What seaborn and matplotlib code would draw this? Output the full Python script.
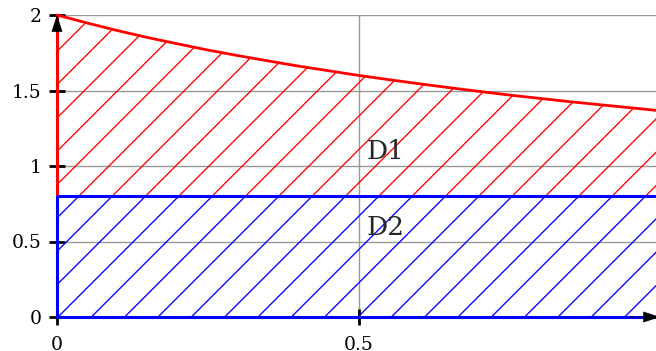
import numpy as np
import pandas as pd
import matplotlib
matplotlib.use("Agg")
import matplotlib.pyplot as plt
import seaborn as sns

# --- data ---
curve_x = [0.0, 0.05, 0.1, 0.15, 0.2, 0.25, 0.3, 0.35, 0.4, 0.45, 0.5,
           0.55, 0.6, 0.65, 0.7, 0.75, 0.8, 0.85, 0.9, 0.95, 1.0]
curve_y = [2.0, 1.947, 1.897, 1.851, 1.809, 1.768, 1.731, 1.696, 1.662, 1.631, 1.600,
           1.572, 1.545, 1.519, 1.494, 1.470, 1.448, 1.426, 1.406, 1.386, 1.366]
level_d2 = 0.8
x_ticks = [0, 0.5]
x_tick_labels = ["0", "0.5"]
y_ticks = [0, 0.5, 1, 1.5, 2]
y_tick_labels = ["0", "0.5", "1", "1.5", "2"]
region_labels = ["D1", "D2"]
region_label_pos = [(0.514, 1.044), (0.514, 0.543)]

RED = "#ff0000"
BLUE = "#0000ff"

W, H = 656, 351
SHIFT = 25  # extra canvas on the left, cropped off afterwards (moves hatch phase)

sns.set_style("white")
plt.rcParams["font.family"] = ["DejaVu Serif"]
plt.rcParams["hatch.linewidth"] = 0.95

df = pd.DataFrame({"x": curve_x, "y": curve_y})

fig = plt.figure(figsize=((W + SHIFT) / 100, H / 100), dpi=100)
ax = fig.add_axes([(57 + SHIFT) / (W + SHIFT), 34 / H, 603 / (W + SHIFT), 302 / H])
ax.set_xlim(0, 1)
ax.set_ylim(0, 2)
for s in ax.spines.values():
    s.set_visible(False)

# grid
for xv in [0.5, 1.0]:
    ax.axvline(xv, color="#999999", lw=1.0, zorder=0)
for yv in y_ticks[1:]:
    ax.axhline(yv, color="#999999", lw=1.0, zorder=0)

# hatched regions
ax.fill_between(df["x"], level_d2, df["y"], facecolor="none", edgecolor=RED,
                hatch="/", linewidth=0, zorder=1)
ax.fill_between(df["x"], 0, level_d2, facecolor="none", edgecolor=BLUE,
                hatch="/", linewidth=0, zorder=1)

# boundaries
sns.lineplot(data=df, x="x", y="y", color=RED, lw=2.0, ax=ax, zorder=4, clip_on=False)
ax.plot([0, 0], [level_d2, curve_y[0]], color=RED, lw=2.2, zorder=4, clip_on=False,
        solid_capstyle="butt")
ax.plot([0, 0], [0, level_d2], color=BLUE, lw=2.2, zorder=5, clip_on=False,
        solid_capstyle="butt")
ax.plot([0, 1], [level_d2, level_d2], color=BLUE, lw=2.2, zorder=5, clip_on=False)
ax.plot([0, 1], [0, 0], color=BLUE, lw=2.2, zorder=5, clip_on=False)

# axis arrowheads
arrow_kw = dict(arrowstyle="-|>,head_length=0.55,head_width=0.18", color="black",
                lw=0.5, mutation_scale=20, shrinkA=0, shrinkB=0)
ax.annotate("", xy=(0, 2), xytext=(0, 1.9), arrowprops=arrow_kw,
            annotation_clip=False, zorder=6)
ax.annotate("", xy=(1, 0), xytext=(0.95, 0), arrowprops=arrow_kw,
            annotation_clip=False, zorder=6)

for lab, (tx, ty) in zip(region_labels, region_label_pos):
    ax.text(tx, ty, lab, fontsize=19, ha="left", va="baseline", zorder=8)

ax.set_xticks(x_ticks)
ax.set_xticklabels(x_tick_labels)
ax.set_yticks(y_ticks)
ax.set_yticklabels(y_tick_labels)
ax.tick_params(axis="both", direction="inout", length=12, width=2,
               color="black", labelcolor="black", labelsize=13.5, pad=5,
               bottom=True, left=True)
ax.tick_params(axis="x", pad=8)
ax.set_xlabel("")
ax.set_ylabel("")

fig.canvas.draw()
img = np.asarray(fig.canvas.buffer_rgba())[:, SHIFT:, :]
plt.imsave("out.png", img)
